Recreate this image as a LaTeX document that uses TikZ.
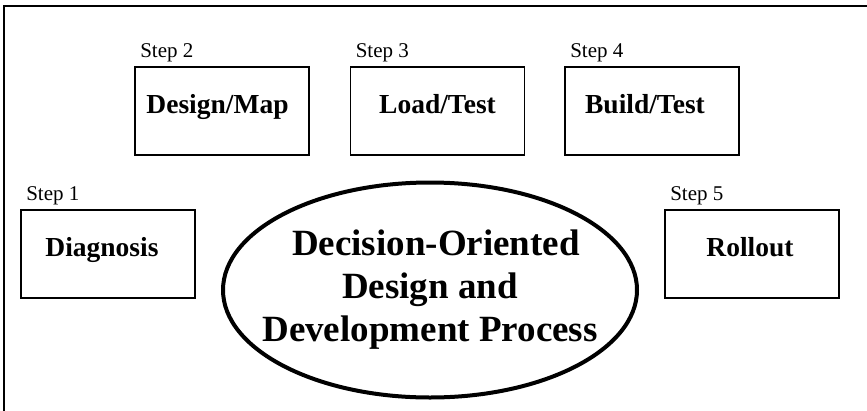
\documentclass[tikz,border=0pt]{standalone}
\usepackage{fontspec}
\setmainfont{Liberation Serif}
\usetikzlibrary{shapes.geometric}
\begin{document}
\begin{tikzpicture}[x=1pt,y=-1pt,
  stepbox/.style={draw, line width=1.8pt, rectangle, minimum width=174pt, minimum height=88pt, inner sep=0pt,
    font=\fontsize{27.5}{32}\selectfont\bfseries, text height=27pt, text depth=22pt},
  steplabel/.style={anchor=base west, inner sep=0pt, font=\fontsize{21}{25}\selectfont, xshift=6pt, yshift=9pt},
  bigoval/.style={draw, ellipse, line width=4pt, minimum width=414pt, minimum height=215pt,
    inner xsep=-40pt, inner ysep=0pt,
    align=center, font=\fontsize{37}{43}\selectfont\bfseries},
]
\useasboundingbox (0,0) rectangle (867,410);
\coordinate (fbl) at (4,412);
\coordinate (ftl) at (4,6);
\coordinate (ftr) at (869,6);
\draw[line width=2pt] (fbl) -- (ftl) -- (ftr);

\node[stepbox, label={[steplabel]north west:Step 2}] (b2) at (222,111) {Design/Map\hspace*{9pt}};
\node[stepbox, label={[steplabel]north west:Step 3}] (b3) at (437.5,111) {Load/Test};
\node[stepbox, label={[steplabel]north west:Step 4}] (b4) at (652,111) {Build/Test\hspace*{14pt}};
\node[stepbox, label={[steplabel]north west:Step 1}] (b1) at (108,254) {Diagnosis\hspace*{12pt}};
\node[stepbox, label={[steplabel]north west:Step 5}] (b5) at (752,254) {Rollout\hspace*{4pt}};

\node[bigoval] (core) at (430,290) {\hspace*{12pt}Decision-Oriented\\Design and\hspace*{16pt}\\Development Process};
\end{tikzpicture}
\end{document}
